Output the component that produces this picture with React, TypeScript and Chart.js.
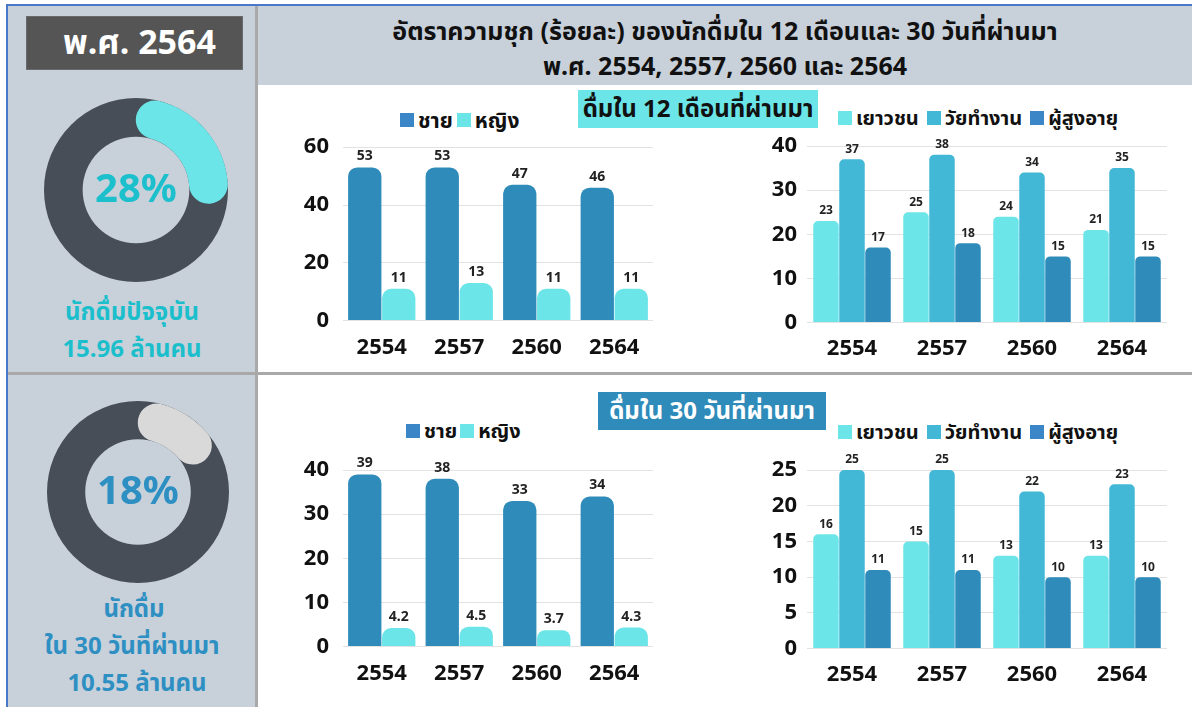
import React, { useEffect, useRef } from 'react';
import { Chart, registerables } from 'chart.js';

Chart.register(...registerables);

const FONT = '"Noto Sans", "Noto Sans Thai", "Open Sans", sans-serif';

// ---------- data ----------
const years = ['2554', '2557', '2560', '2564'];
const genderNames = ['ชาย', 'หญิง'];
const ageNames = ['เยาวชน', 'วัยทำงาน', 'ผู้สูงอายุ'];

const male12 = [53, 53, 47, 46];
const female12 = [11, 13, 11, 11];
const youth12 = [23, 25, 24, 21];
const working12 = [37, 38, 34, 35];
const elderly12 = [17, 18, 15, 15];

const male30 = [39, 38, 33, 34];
const female30 = [4.2, 4.5, 3.7, 4.3];
const youth30 = [16, 15, 13, 13];
const working30 = [25, 25, 22, 23];
const elderly30 = [11, 11, 10, 10];

const drinkers12Pct = 28;
const drinkers30Pct = 18;

const yMaxes = [60, 40, 40, 25];
const ySteps = [20, 10, 10, 5];

const genderColors = ['#2e8bba', '#6ce5e8'];
const ageColors = ['#6ce5e8', '#43b8d6', '#2e8bba'];

// ---------- plugins ----------
const valueLabels = (size: number) => ({
  id: 'valueLabels',
  afterDatasetsDraw(chart: any) {
    const ctx = chart.ctx;
    ctx.save();
    ctx.font = `bold ${size}px ${FONT}`;
    ctx.fillStyle = '#222';
    ctx.textAlign = 'center';
    ctx.textBaseline = 'bottom';
    chart.data.datasets.forEach((ds: any, i: number) => {
      const meta = chart.getDatasetMeta(i);
      meta.data.forEach((el: any, j: number) => {
        ctx.fillText(String(ds.data[j]), el.x, el.y - 4);
      });
    });
    ctx.restore();
  },
});

function BarChart(props: any) {
  const ref = useRef<HTMLCanvasElement>(null);
  useEffect(() => {
    const p = props;
    const chart = new Chart(ref.current as HTMLCanvasElement, {
      type: 'bar',
      data: {
        labels: p.labels,
        datasets: p.series.map((s: number[], i: number) => ({
          label: p.names[i],
          data: s,
          backgroundColor: p.colors[i],
          borderRadius: p.radius,
          borderSkipped: 'start',
          barPercentage: 0.98,
          categoryPercentage: p.catPct,
        })),
      },
      options: {
        responsive: false,
        maintainAspectRatio: false,
        animation: false,
        layout: { padding: p.padding },
        plugins: { legend: { display: false }, tooltip: { enabled: false } },
        scales: {
          x: {
            grid: { display: false, drawTicks: false },
            border: { display: false },
            ticks: { font: { family: FONT, size: 22, weight: 'bold' }, color: '#111', padding: p.xPad },
          },
          y: {
            min: 0,
            max: p.max,
            grid: { color: '#e2e2e2', drawTicks: false },
            border: { display: false },
            ticks: { stepSize: p.step, font: { family: FONT, size: 22, weight: 'bold' }, color: '#111', padding: p.yPad },
            afterFit: (s: any) => { s.width = p.yWidth; },
          },
        },
      } as any,
      plugins: [valueLabels(p.labelSize)],
    });
    return () => chart.destroy();
  }, []);
  const b = props.box;
  return (
    <canvas
      ref={ref}
      width={b.width}
      height={b.height}
      style={{ position: 'absolute', left: b.left, top: b.top, width: b.width, height: b.height }}
    />
  );
}

function Donut(props: any) {
  const ref = useRef<HTMLCanvasElement>(null);
  useEffect(() => {
    const p = props;
    const ring = {
      id: 'ringBg',
      beforeDatasetsDraw(chart: any) {
        const a = chart.getDatasetMeta(0).data[0];
        const ctx = chart.ctx;
        ctx.save();
        ctx.beginPath();
        ctx.arc(a.x, a.y, a.outerRadius, 0, Math.PI * 2);
        ctx.arc(a.x, a.y, a.innerRadius, Math.PI * 2, 0, true);
        ctx.closePath();
        ctx.fillStyle = '#474e57';
        ctx.fill();
        ctx.restore();
      },
      afterDatasetsDraw(chart: any) {
        const a = chart.getDatasetMeta(0).data[0];
        const ctx = chart.ctx;
        ctx.save();
        ctx.font = `bold ${p.textSize}px ${FONT}`;
        ctx.fillStyle = p.textColor;
        ctx.textAlign = 'center';
        ctx.textBaseline = 'middle';
        ctx.fillText(`${p.pct}%`, a.x, a.y + 1);
        ctx.restore();
      },
    };
    const chart = new Chart(ref.current as HTMLCanvasElement, {
      type: 'doughnut',
      data: {
        labels: ['a', 'b'],
        datasets: [
          {
            data: [p.pct, 100 - p.pct],
            backgroundColor: [p.arcColor, 'rgba(0,0,0,0)'],
            borderWidth: 0,
            borderRadius: (c: any) => (c.dataIndex === 0 ? 20 : 0),
          },
        ],
      },
      options: {
        responsive: false,
        maintainAspectRatio: false,
        animation: false,
        cutout: '58%',
        plugins: { legend: { display: false }, tooltip: { enabled: false } },
      } as any,
      plugins: [ring],
    });
    return () => chart.destroy();
  }, []);
  const b = props.box;
  return (
    <canvas
      ref={ref}
      width={b.size}
      height={b.size}
      style={{ position: 'absolute', left: b.left, top: b.top, width: b.size, height: b.size }}
    />
  );
}

function Legend(props: any) {
  return (
    <div
      style={{
        position: 'absolute',
        left: props.left,
        top: props.top,
        display: 'flex',
        alignItems: 'center',
        fontFamily: FONT,
        fontWeight: 700,
        fontSize: props.size || 20,
        color: '#111',
        whiteSpace: 'nowrap',
        lineHeight: '26px',
      }}
    >
      {props.names.map((n: string, i: number) => (
        <div key={n} style={{ display: 'flex', alignItems: 'center', marginRight: props.gap }}>
          <span style={{ display: 'inline-block', width: 14, height: 14, background: props.colors[i], marginRight: 4 }} />
          <span>{n}</span>
        </div>
      ))}
    </div>
  );
}

const abs = (left: number, top: number, width: number, height: number, extra: any = {}) => ({
  position: 'absolute' as const,
  left,
  top,
  width,
  height,
  ...extra,
});

export default function App() {
  return (
    <div
      style={{
        position: 'fixed',
        left: 0,
        top: 0,
        width: 1192,
        height: 707,
        background: '#ffffff',
        overflow: 'hidden',
        fontFamily: FONT,
      }}
    >
      {/* panels */}
      <div style={abs(7, 5, 250, 702, { background: '#c8d0da' })} />
      <div style={abs(257, 5, 935, 80, { background: '#c8d0da' })} />
      <div style={abs(7, 4, 1185, 2, { background: '#4a78c8' })} />
      <div style={abs(6, 4, 2, 703, { background: '#4a78c8' })} />
      <div style={abs(255, 6, 3, 701, { background: '#a9a9a9' })} />
      <div style={abs(8, 372, 1184, 3, { background: '#a9a9a9' })} />

      {/* year box */}
      <div
        style={abs(26, 16, 217, 54, {
          background: '#555555',
          border: '1px solid #6a6a6a',
          boxSizing: 'border-box',
          color: '#fff',
          fontWeight: 700,
          fontSize: 34,
          display: 'flex',
          alignItems: 'center',
          justifyContent: 'center',
          paddingLeft: 10,
        })}
      >
        พ.ศ. 2564
      </div>

      {/* title */}
      <div
        style={abs(258, 13, 934, 72, {
          textAlign: 'center',
          fontWeight: 700,
          fontSize: 25,
          lineHeight: '35px',
          color: '#111',
        })}
      >
        <div>อัตราความชุก (ร้อยละ) ของนักดื่มใน 12 เดือนและ 30 วันที่ผ่านมา</div>
        <div>พ.ศ. 2554, 2557, 2560 และ 2564</div>
      </div>

      {/* donuts */}
      <Donut box={{ left: 44, top: 98, size: 184 }} pct={drinkers12Pct} arcColor="#6ce5e8" textColor="#1bc0cc" textSize={40} />
      <Donut box={{ left: 47, top: 401, size: 182 }} pct={drinkers30Pct} arcColor="#d9d9d9" textColor="#2d8fc2" textSize={40} />

      <div style={abs(7, 292, 250, 80, { textAlign: 'center', color: '#1bbfcc', fontWeight: 700, fontSize: 24, lineHeight: '37px' })}>
        <div>นักดื่มปัจจุบัน</div>
        <div>15.96 ล้านคน</div>
      </div>
      <div style={abs(7, 589, 250, 115, { textAlign: 'center', color: '#2d8fc2', fontWeight: 700, fontSize: 24, lineHeight: '37px' })}>
        <div style={{ paddingLeft: 4 }}>นักดื่ม</div>
        <div>ใน 30 วันที่ผ่านมา</div>
        <div style={{ paddingLeft: 10 }}>10.55 ล้านคน</div>
      </div>

      {/* section labels */}
      <div
        style={abs(578, 90, 240, 38, {
          background: '#6ce5e8',
          color: '#111',
          fontWeight: 700,
          fontSize: 24,
          display: 'flex',
          alignItems: 'center',
          justifyContent: 'center',
          whiteSpace: 'nowrap',
        })}
      >
        ดื่มใน 12 เดือนที่ผ่านมา
      </div>
      <div
        style={abs(598, 392, 228, 38, {
          background: '#2e8bba',
          color: '#fff',
          fontWeight: 700,
          fontSize: 24,
          display: 'flex',
          alignItems: 'center',
          justifyContent: 'center',
          whiteSpace: 'nowrap',
        })}
      >
        ดื่มใน 30 วันที่ผ่านมา
      </div>

      {/* legends */}
      <Legend left={400} top={107} size={21} names={genderNames} colors={['#3a86c6', '#6ce5e8']} gap={4} />
      <Legend left={838} top={105} names={ageNames} colors={['#6ce5e8', '#43b8d6', '#3a86c6']} gap={8} />
      <Legend left={406} top={418} names={genderNames} colors={['#3a86c6', '#6ce5e8']} gap={3} />
      <Legend left={838} top={419} names={ageNames} colors={['#6ce5e8', '#43b8d6', '#3a86c6']} gap={8} />

      {/* charts */}
      <BarChart
        box={{ left: 261, top: 120, width: 404, height: 260 }}
        padding={{ left: 10, top: 22, right: 12, bottom: 5 }}
        yWidth={72}
        yPad={14}
        xPad={14}
        labels={years}
        series={[male12, female12]}
        names={genderNames}
        colors={genderColors}
        max={yMaxes[0]}
        step={ySteps[0]}
        radius={9}
        catPct={0.877}
        labelSize={14}
      />
      <BarChart
        box={{ left: 757, top: 120, width: 420, height: 260 }}
        padding={{ left: 5, top: 26, right: 10, bottom: 5 }}
        yWidth={45}
        yPad={10}
        xPad={13}
        labels={years}
        series={[youth12, working12, elderly12]}
        names={ageNames}
        colors={ageColors}
        max={yMaxes[1]}
        step={ySteps[1]}
        radius={5}
        catPct={0.867}
        labelSize={12}
      />
      <BarChart
        box={{ left: 261, top: 440, width: 404, height: 266 }}
        padding={{ left: 10, top: 30, right: 12, bottom: 5 }}
        yWidth={72}
        yPad={14}
        xPad={14}
        labels={years}
        series={[male30, female30]}
        names={genderNames}
        colors={genderColors}
        max={yMaxes[2]}
        step={ySteps[2]}
        radius={9}
        catPct={0.877}
        labelSize={14}
      />
      <BarChart
        box={{ left: 757, top: 440, width: 420, height: 266 }}
        padding={{ left: 5, top: 30, right: 10, bottom: 5 }}
        yWidth={45}
        yPad={10}
        xPad={13}
        labels={years}
        series={[youth30, working30, elderly30]}
        names={ageNames}
        colors={ageColors}
        max={yMaxes[3]}
        step={ySteps[3]}
        radius={5}
        catPct={0.867}
        labelSize={12}
      />
    </div>
  );
}
